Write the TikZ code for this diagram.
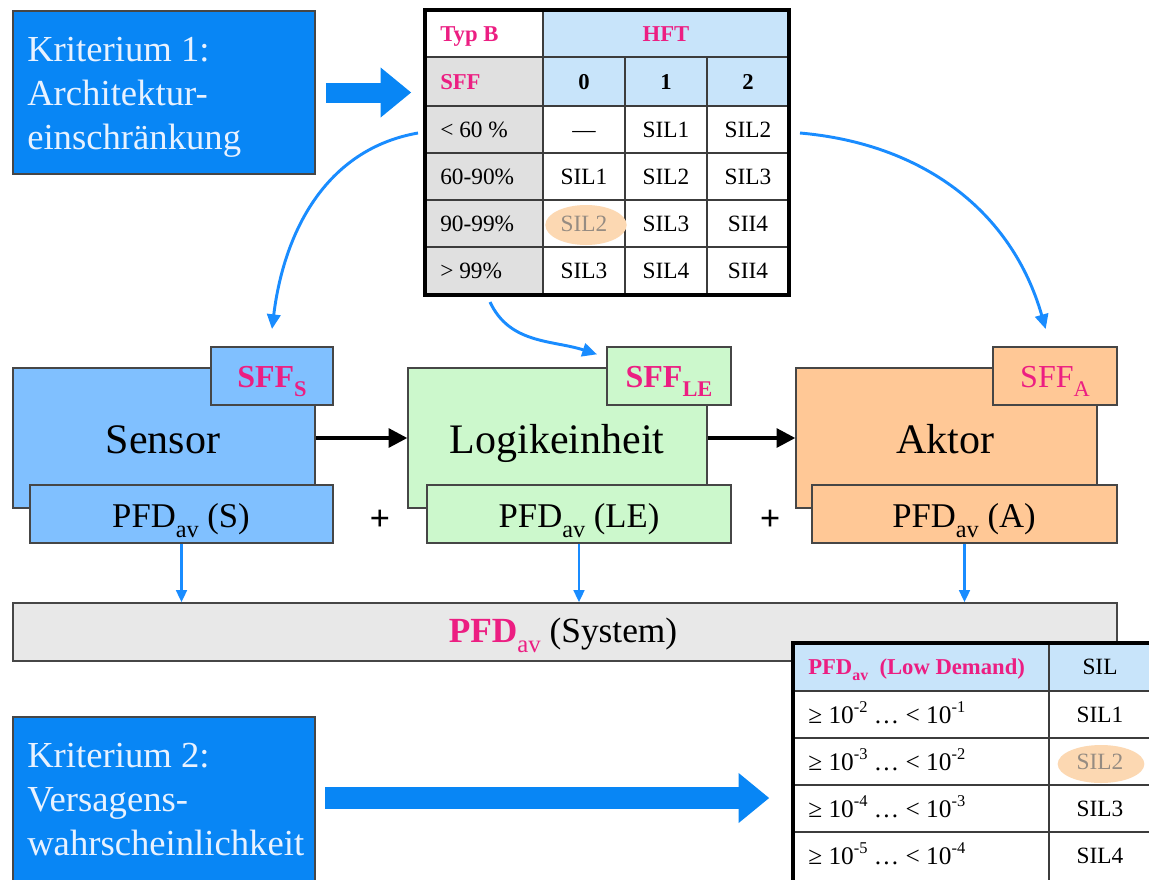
\documentclass[tikz,border=0pt]{standalone}
\usepackage{fontspec}
\setmainfont{Liberation Serif}
\usetikzlibrary{arrows.meta,fit,calc,shapes.geometric}
\definecolor{kblue}{RGB}{8,134,245}
\definecolor{cblue}{RGB}{25,140,255}
\definecolor{pnk}{RGB}{236,30,130}
\definecolor{hdrblue}{RGB}{200,228,250}
\definecolor{tgray}{RGB}{224,224,224}
\definecolor{sensfill}{RGB}{128,192,255}
\definecolor{logfill}{RGB}{204,248,204}
\definecolor{aktfill}{RGB}{255,200,150}
\definecolor{sysfill}{RGB}{232,232,232}
\definecolor{peach}{RGB}{252,216,178}
\definecolor{boxline}{RGB}{70,70,70}
\definecolor{ktext}{RGB}{232,242,255}
\definecolor{gridc}{RGB}{60,60,60}
\definecolor{hltext}{RGB}{150,140,130}
\newcommand{\mysub}[1]{\raisebox{-0.3em}{\scalebox{0.7}{#1}}}
\newcommand{\mysup}[1]{\raisebox{0.42em}{\scalebox{0.65}{#1}}}
\begin{document}
\begin{tikzpicture}[x=0.75pt,y=-0.75pt,
  cbox/.style={draw=boxline, line width=1pt, inner sep=0pt},
  kbox/.style={draw=boxline, line width=1.2pt, fill=kblue, inner sep=0pt},
  ktxt/.style={text=ktext, font=\fontsize{27.5}{33}\selectfont, align=left, inner sep=0pt},
  bigtxt/.style={font=\fontsize{31.5}{36}\selectfont, inner sep=0pt, anchor=base},
  midtxt/.style={font=\fontsize{26}{30}\selectfont, inner sep=0pt, anchor=base},
  tabtxt/.style={font=\fontsize{24}{28}\selectfont, text=pnk, inner sep=0pt, anchor=base},
  tt/.style={font=\fontsize{17.5}{20}\selectfont, inner sep=0pt, anchor=base},
  ttl/.style={tt, anchor=base west},
  tth/.style={tt, font=\fontsize{17}{20}\selectfont\bfseries, text=pnk},
  ttb/.style={tt, font=\fontsize{17}{20}\selectfont\bfseries},
  t2/.style={font=\fontsize{19}{22}\selectfont, inner sep=0pt, anchor=base west},
  grid/.style={draw=gridc, line width=0.9pt},
  tborder/.style={draw=black, line width=2.6pt, inner sep=0pt},
  carrow/.style={draw=cblue, line width=2.2pt, -{Triangle[length=11pt,width=10pt]}},
  barrow/.style={draw=black, line width=2.8pt, -{Triangle[length=14pt,width=14pt]}},
  tarrow/.style={draw=cblue, line width=1.8pt, -{Triangle[length=9pt,width=8pt]}},
  fatarrow/.style={draw=kblue, line width=#1, -{Triangle[length=23pt,width=36pt]}},
]
\useasboundingbox (0,0) rectangle (1149,879);
\clip (0,0) rectangle (1149,879);
\fill[white] (0,0) rectangle (1149,879);

% Kriterium 1
\node[kbox, fit={(13,11) (315,174)}] (k1) {};
\node[ktxt, anchor=west] (k1t) at (27,97) {Kriterium 1:\\Architektur-\\einschränkung};

% Table 1
\fill[white] (425,10) rectangle (789,295);
\fill[hdrblue] (543,10) rectangle (789,106);
\fill[tgray] (425,57) rectangle (543,295);
\foreach \yy in {57,106,153,200,247} \draw[grid] (425,\yy) -- (789,\yy);
\draw[grid] (543,10) -- (543,295);
\foreach \xx in {625,707} \draw[grid] (\xx,57) -- (\xx,295);
\node[ellipse, fill=peach, minimum width=61pt, minimum height=30pt, inner sep=0pt] (hl1) at (586,225) {};
\node[tth, anchor=base west] (typb) at (440,41) {Typ B};
\node[tth] (hft) at (666,41) {HFT};
\node[tth, anchor=base west] (sff) at (440,89) {SFF};
\node[ttb] (h0) at (584,89) {0};
\node[ttb] (h1) at (666,89) {1};
\node[ttb] (h2) at (748,89) {2};
\node[ttl] (r1a) at (440,137) {< 60 \%};
\node[tt] (r1b) at (584,137) {—};
\node[tt] (r1c) at (666,137) {SIL1};
\node[tt] (r1d) at (748,137) {SIL2};
\node[ttl] (r2a) at (440,184) {60-90\%};
\node[tt] (r2b) at (584,184) {SIL1};
\node[tt] (r2c) at (666,184) {SIL2};
\node[tt] (r2d) at (748,184) {SIL3};
\node[ttl] (r3a) at (440,231) {90-99\%};
\node[tt, text=hltext] (r3b) at (584,231) {SIL2};
\node[tt] (r3c) at (666,231) {SIL3};
\node[tt] (r3d) at (748,231) {SII4};
\node[ttl] (r4a) at (440,278) {> 99\%};
\node[tt] (r4b) at (584,278) {SIL3};
\node[tt] (r4c) at (666,278) {SIL4};
\node[tt] (r4d) at (748,278) {SII4};
\node[tborder, fit={(425,10) (789,295)}] (tab1) {};

% arrow 1
\draw[fatarrow=15pt] ([xshift=7.5pt]k1.east) -- ([xshift=-9pt]k1.east -| tab1.west);

% components
\node[cbox, fill=sensfill, fit={(13,368) (315,508)}] (sens) {};
\node[cbox, fill=sensfill, fit={(211,347) (333,405)}] (sffS) {};
\node[cbox, fill=sensfill, fit={(30,485) (333,543)}] (pfdS) {};
\node[bigtxt] (sensT) at (163,453) {Sensor};
\node[tabtxt, font=\fontsize{24}{28}\selectfont\bfseries] (sffST) at (272,387) {SFF\mysub{S}};
\node[midtxt] (pfdST) at (181,527) {PFD\mysub{av} (S)};

\node[cbox, fill=logfill, fit={(408,368) (707,508)}] (logi) {};
\node[cbox, fill=logfill, fit={(607,347) (731,405)}] (sffLE) {};
\node[cbox, fill=logfill, fit={(427,485) (731,543)}] (pfdLE) {};
\node[bigtxt] (logiT) at (557,453) {Logikeinheit};
\node[tabtxt, font=\fontsize{24}{28}\selectfont\bfseries] (sffLET) at (669,387) {SFF\mysub{LE}};
\node[midtxt] (pfdLET) at (579,527) {PFD\mysub{av} (LE)};

\node[cbox, fill=aktfill, fit={(796,368) (1097,508)}] (akt) {};
\node[cbox, fill=aktfill, fit={(993,347) (1117,405)}] (sffA) {};
\node[cbox, fill=aktfill, fit={(812,485) (1117,543)}] (pfdA) {};
\node[bigtxt] (aktT) at (945,453) {Aktor};
\node[tabtxt] (sffAT) at (1055,387) {SFF\mysub{A}};
\node[midtxt] (pfdAT) at (964,527) {PFD\mysub{av} (A)};

\draw[barrow] (sens.east) -- (logi.west);
\draw[barrow] (logi.east) -- (akt.west);
\node[midtxt, font=\fontsize{27}{30}\selectfont\bfseries] (plus1) at (380,530) {+};
\node[midtxt, font=\fontsize{27}{30}\selectfont\bfseries] (plus2) at (770,530) {+};

% curved arrows
\coordinate (cA) at (418,133);
\coordinate (cB) at (800,133);
\coordinate (cC) at (490,302);
\draw[carrow] (cA) to[out=190,in=83] ([yshift=13pt]sffS.north);
\draw[carrow] (cB) to[out=-5,in=106] ([xshift=-7pt,yshift=13pt]sffA.north);
\draw[carrow] (cC) to[out=-65,in=162] ([xshift=-7pt,yshift=-6pt]sffLE.north west);

% system
\node[cbox, fill=sysfill, line width=1.2pt, fit={(13,603) (1117,661)}] (sys) {};
\node[font=\fontsize{26.5}{30}\selectfont, inner sep=0pt, anchor=base] (sysT) at (563,642) {\textcolor{pnk}{\textbf{PFD}\mysub{av}} (System)};
\draw[tarrow] (pfdS.south) -- (pfdS.south |- sys.north);
\draw[tarrow] (pfdLE.south) -- (pfdLE.south |- sys.north);
\draw[tarrow] (pfdA.south) -- (pfdA.south |- sys.north);

% Table 2
\fill[white] (793,643) rectangle (1165,895);
\fill[hdrblue] (793,643) rectangle (1165,691);
\foreach \yy in {691,738,785,832} \draw[grid] (793,\yy) -- (1165,\yy);
\draw[grid] (1049,643) -- (1049,895);
\node[ellipse, fill=peach, minimum width=65pt, minimum height=28.5pt, inner sep=0pt] (hl2) at (1101,764) {};
\node[t2, text=pnk, font=\fontsize{17}{20}\selectfont\bfseries] (lh) at (808,674) {PFD\mysub{av}\ \ (Low Demand)};
\node[tt] (sh) at (1100,674) {SIL};
\node[t2] (l1) at (808,723) {≥ 10\mysup{-2} … < 10\mysup{-1}};
\node[t2] (l2) at (808,770) {≥ 10\mysup{-3} … < 10\mysup{-2}};
\node[t2] (l3) at (808,817) {≥ 10\mysup{-4} … < 10\mysup{-3}};
\node[t2] (l4) at (808,864) {≥ 10\mysup{-5} … < 10\mysup{-4}};
\node[tt] (s1) at (1100,722) {SIL1};
\node[tt, text=hltext] (s2) at (1100,769) {SIL2};
\node[tt] (s3) at (1100,816) {SIL3};
\node[tt] (s4) at (1100,863) {SIL4};
\node[tborder, fit={(793,643) (1165,895)}] (tab2) {};

% Kriterium 2
\node[kbox, fit={(13,717) (315,895)}] (k2) {};
\node[ktxt, anchor=west] (k2t) at (27,800) {Kriterium 2:\\Versagens-\\wahrscheinlichkeit};
\coordinate (a2s) at ($(k2.west |- 0,798)+(313,0)$);
\coordinate (a2e) at ($(tab2.west |- 0,798)+(-22,0)$);
\draw[fatarrow=17pt] (a2s) -- (a2e);
\end{tikzpicture}
\end{document}
